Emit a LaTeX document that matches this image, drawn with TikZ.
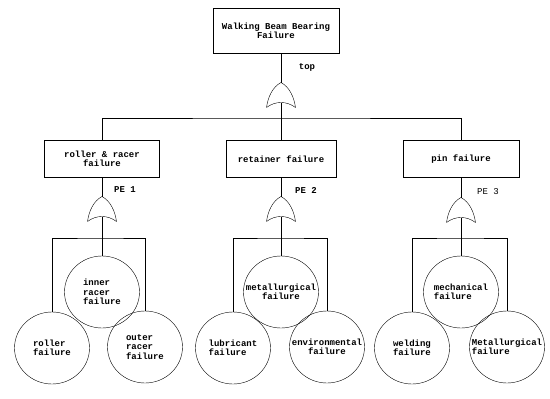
\documentclass[tikz,border=0pt]{standalone}
\usepackage{fontspec}
\setmonofont{Liberation Mono}
\usetikzlibrary{shapes.geometric}

\begin{document}
\begin{tikzpicture}[x=1pt, y=-1pt,
    every node/.style={font=\ttfamily\bfseries\fontsize{9}{9.5}\selectfont},
    event/.style={draw, line width=0.8pt, inner sep=2pt, align=center, minimum height=37pt},
    basic/.style={draw, ellipse, minimum width=75pt, minimum height=72pt, inner sep=-15pt, align=left},
    orgate/.style={minimum width=29pt, minimum height=25pt, inner sep=0pt, outer sep=0pt,
      append after command={\pgfextra{\let\gn\tikzlastnode
        \draw (\gn.south west) .. controls ([shift={(1.5pt,10.5pt)}]\gn.south west)
          and ([shift={(-8.5pt,-4.5pt)}]\gn.north) .. (\gn.north)
          .. controls ([shift={(8.5pt,-4.5pt)}]\gn.north)
          and ([shift={(-1.5pt,10.5pt)}]\gn.south east) .. (\gn.south east)
          .. controls ([shift={(-9pt,6.7pt)}]\gn.south east)
          and ([shift={(9pt,6.7pt)}]\gn.south west) .. (\gn.south west);}}},
    lbl/.style={font=\ttfamily\fontsize{9}{9.5}\selectfont}]
  \useasboundingbox (0,0) rectangle (550,399);
  %Evenement de tete
  \node[event, minimum width=126pt, minimum height=45pt] (Top) at (276,31) {Walking Beam Bearing\\Failure};
  \node[orgate] (G0) at (281,95) {};
  \node (LTop) at (307,67) {top};
  %Evenements intermediaires
  \node[event, minimum width=115pt] (A) at (102,159) {roller \& racer\\failure};
  \node[event, minimum width=110pt] (B) at (281,159) {retainer failure};
  \node[event, minimum width=116pt] (C) at (461,159) {pin failure};
  \node[orgate] (G1) at (102,209) {};
  \node[orgate] (G2) at (281,209) {};
  \node[orgate] (G3) at (461,210) {};
  \node (LPE1) at (125,190) {PE 1};
  \node (LPE2) at (306,190) {PE 2};
  \node[lbl] (LPE3) at (488,192) {PE 3};
  %Evenements de base
  \node[basic] (inner) at (102,292) {inner\\racer\\failure};
  \node[basic] (roller) at (52,348) {roller\\failure};
  \node[basic] (outer) at (145,347) {outer\\racer\\failure};
  \node[basic, align=center] (metal) at (281,292) {metallurgical\\failure};
  \node[basic] (lub) at (233,348) {lubricant\\failure};
  \node[basic, align=center] (env) at (327,347) {environmental\\failure};
  \node[basic] (mech) at (461,292) {mechanical\\failure};
  \node[basic] (weld) at (412,348) {welding\\failure};
  \node[basic] (metal2) at (507,347) {Metallurgical\\failure};
  \coordinate (Bus) at (281,118);
  \coordinate (ABar) at (102,238);
  \coordinate (BBar) at (281,238);
  \coordinate (CBar) at (461,238);
  %Aretes
  \draw (G0.north) -- (G0.north |- Top.south);
  \draw ([yshift=5pt]G0.south) -- (B.north);
  \draw (A.north) |- (Bus) -| (C.north);
  \draw (G1.north) -- (A.south);
  \draw (G2.north) -- (B.south);
  \draw (G3.north) -- (C.south);
  \draw ([yshift=5pt]G1.south) -- (inner.north);
  \draw ([yshift=5pt]G2.south) -- (metal.north);
  \draw ([yshift=5pt]G3.south) -- (mech.north);
  \draw (roller.north) |- (ABar) -| (outer.north);
  \draw (lub.north) |- (BBar) -| (env.north);
  \draw (weld.north) |- (CBar) -| (metal2.north);
\end{tikzpicture}
\end{document}
